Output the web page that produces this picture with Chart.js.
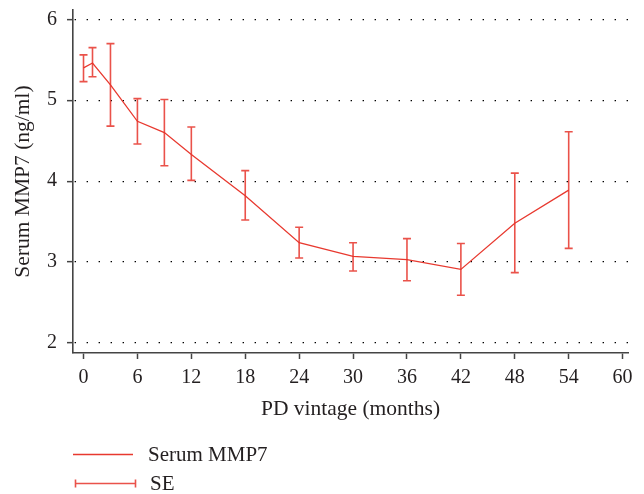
<!DOCTYPE html>
<html>
<head>
<meta charset="utf-8">
<script src="https://cdn.jsdelivr.net/npm/chart.js@4/dist/chart.umd.min.js"></script>
<style>
  html, body { margin: 0; padding: 0; background: #fff; }
  #wrap { width: 644px; height: 494px; position: relative; }
</style>
</head>
<body>
<div id="wrap"><canvas id="c"></canvas></div>
<script>
// ---- data ----
const months = [0, 1, 3, 6, 9, 12, 18, 24, 30, 36, 42, 48, 54];
const mmp7Mean = [5.40, 5.46, 5.19, 4.74, 4.60, 4.33, 3.82, 3.24, 3.07, 3.03, 2.91, 3.48, 3.89];
const seLow    = [5.23, 5.29, 4.68, 4.46, 4.19, 4.01, 3.52, 3.05, 2.89, 2.77, 2.59, 2.87, 3.17];
const seHigh   = [5.56, 5.65, 5.70, 5.02, 5.01, 4.67, 4.13, 3.43, 3.24, 3.29, 3.23, 4.10, 4.61];
const xTicks = [0, 6, 12, 18, 24, 30, 36, 42, 48, 54, 60];
const yTicks = [2, 3, 4, 5, 6];

const RED = '#e8392f';
const BAR = 'rgba(230,52,42,0.85)';
const INK = '#231f20';
const AXIS = '#444444';
const FONT = "'Liberation Serif', 'Times New Roman', serif";

const errorBars = {
  id: 'errorBars',
  afterDatasetsDraw(chart) {
    const {ctx, scales: {x, y}} = chart;
    ctx.save();
    ctx.strokeStyle = BAR;
    ctx.lineWidth = 1.6;
    const cap = 4;
    months.forEach((m, i) => {
      const px = x.getPixelForValue(m);
      const yl = y.getPixelForValue(seLow[i]);
      const yh = y.getPixelForValue(seHigh[i]);
      ctx.beginPath();
      ctx.moveTo(px, yl); ctx.lineTo(px, yh);
      ctx.moveTo(px - cap, yl); ctx.lineTo(px + cap, yl);
      ctx.moveTo(px - cap, yh); ctx.lineTo(px + cap, yh);
      ctx.stroke();
    });
    ctx.restore();
  }
};

const customLegend = {
  id: 'customLegend',
  afterDraw(chart) {
    const {ctx} = chart;
    ctx.save();
    ctx.font = '21px ' + FONT;
    ctx.fillStyle = INK;
    ctx.textBaseline = 'middle';
    ctx.textAlign = 'left';
    ctx.strokeStyle = RED;
    ctx.lineWidth = 1.3;
    ctx.beginPath();
    ctx.moveTo(73, 454.5); ctx.lineTo(133, 454.5);
    ctx.stroke();
    ctx.fillText(chart.data.datasets[0].label, 148, 455);
    ctx.strokeStyle = BAR;
    ctx.lineWidth = 1.6;
    ctx.beginPath();
    ctx.moveTo(75, 483.5); ctx.lineTo(136, 483.5);
    ctx.moveTo(75.5, 479.5); ctx.lineTo(75.5, 487.5);
    ctx.moveTo(135.5, 479.5); ctx.lineTo(135.5, 487.5);
    ctx.stroke();
    ctx.fillText('SE', 150, 484);
    ctx.restore();
  }
};

new Chart(document.getElementById('c'), {
  type: 'line',
  data: {
    datasets: [{
      label: 'Serum MMP7',
      data: months.map((m, i) => ({x: m, y: mmp7Mean[i]})),
      borderColor: RED,
      borderWidth: 1.3,
      pointRadius: 0,
      tension: 0,
      fill: false
    }]
  },
  options: {
    responsive: true,
    maintainAspectRatio: false,
    animation: false,
    devicePixelRatio: 1,
    layout: { padding: { left: 0, right: 16, top: 10, bottom: 71 } },
    plugins: { legend: { display: false }, tooltip: { enabled: false } },
    scales: {
      x: {
        type: 'linear',
        min: -1.17,
        max: 60.6,
        afterFit(s) { s.height = 70; s.paddingLeft = 0; s.paddingRight = 0; },
        afterBuildTicks(s) { s.ticks = xTicks.map(v => ({value: v})); },
        ticks: { color: INK, font: { family: FONT, size: 20 }, padding: 7, maxRotation: 0, autoSkip: false },
        grid: { drawOnChartArea: false, drawTicks: true, tickLength: 6, tickColor: AXIS, tickWidth: 1.5 },
        border: { display: true, color: AXIS, width: 1.6 },
        title: { display: true, text: 'PD vintage (months)', color: INK, font: { family: FONT, size: 21.5 }, padding: { top: 0, bottom: 1 } }
      },
      y: {
        type: 'linear',
        min: 1.877,
        max: 6.115,
        afterFit(s) { s.width = 73; s.paddingTop = 0; s.paddingBottom = 0; },
        afterBuildTicks(s) { s.ticks = yTicks.map(v => ({value: v})); },
        ticks: { color: INK, font: { family: FONT, size: 20 }, padding: 10 },
        grid: { drawOnChartArea: true, drawTicks: true, tickLength: 6, color: '#000', lineWidth: 1.3, tickColor: AXIS, tickWidth: 1.5 },
        border: { display: true, color: AXIS, width: 1.6, dash: [1.4, 10.6], dashOffset: 11 },
        title: { display: true, text: 'Serum MMP7 (ng/ml)', color: INK, font: { family: FONT, size: 21.5 }, padding: { top: 10, bottom: 0 } }
      }
    }
  },
  plugins: [errorBars, customLegend]
});
</script>
</body>
</html>
